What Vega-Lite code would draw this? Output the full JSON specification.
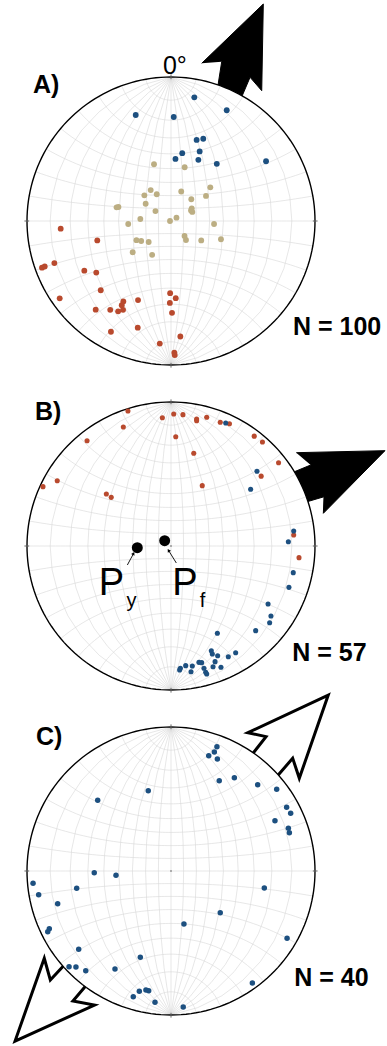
{
  "$schema": "https://vega.github.io/schema/vega-lite/v6.json",
  "padding": 0,
  "spacing": 0,
  "bounds": "flush",
  "background": "white",
  "config": {"view": {"stroke": null}, "text": {"font": "Liberation Sans"}},
  "datasets": {
    "pts": [
      {"p":"A","s":"blue","x":0.162,"y":0.859},{"p":"A","s":"blue","x":0.387,"y":0.769},{"p":"A","s":"blue","x":-0.245,"y":0.736},{"p":"A","s":"blue","x":0.019,"y":0.722},{"p":"A","s":"blue","x":0.178,"y":0.563},{"p":"A","s":"blue","x":0.224,"y":0.571},{"p":"A","s":"blue","x":0.199,"y":0.483},{"p":"A","s":"blue","x":0.078,"y":0.471},{"p":"A","s":"blue","x":0.031,"y":0.431},{"p":"A","s":"blue","x":0.190,"y":0.425},{"p":"A","s":"blue","x":0.318,"y":0.397},{"p":"A","s":"blue","x":0.660,"y":0.415},
      {"p":"A","s":"tan","x":-0.118,"y":0.394},{"p":"A","s":"tan","x":0.095,"y":0.373},{"p":"A","s":"tan","x":0.273,"y":0.234},{"p":"A","s":"tan","x":-0.141,"y":0.215},{"p":"A","s":"tan","x":-0.185,"y":0.178},{"p":"A","s":"tan","x":-0.099,"y":0.186},{"p":"A","s":"tan","x":0.071,"y":0.205},{"p":"A","s":"tan","x":0.243,"y":0.174},{"p":"A","s":"tan","x":0.141,"y":0.151},{"p":"A","s":"tan","x":-0.176,"y":0.120},{"p":"A","s":"tan","x":-0.378,"y":0.095},{"p":"A","s":"tan","x":-0.365,"y":0.097},{"p":"A","s":"tan","x":-0.108,"y":0.069},{"p":"A","s":"tan","x":0.144,"y":0.088},{"p":"A","s":"tan","x":0.148,"y":0.063},{"p":"A","s":"tan","x":0.139,"y":0.073},{"p":"A","s":"tan","x":-0.213,"y":0.014},{"p":"A","s":"tan","x":0.038,"y":0.023},{"p":"A","s":"tan","x":-0.007,"y":0.000},{"p":"A","s":"tan","x":-0.297,"y":-0.021},{"p":"A","s":"tan","x":0.299,"y":-0.021},{"p":"A","s":"tan","x":0.094,"y":-0.104},{"p":"A","s":"tan","x":0.104,"y":-0.132},{"p":"A","s":"tan","x":-0.240,"y":-0.133},{"p":"A","s":"tan","x":-0.207,"y":-0.139},{"p":"A","s":"tan","x":-0.155,"y":-0.146},{"p":"A","s":"tan","x":0.210,"y":-0.135},{"p":"A","s":"tan","x":0.347,"y":-0.127},{"p":"A","s":"tan","x":-0.266,"y":-0.217},{"p":"A","s":"tan","x":-0.131,"y":-0.235},
      {"p":"A","s":"red","x":-0.766,"y":-0.053},{"p":"A","s":"red","x":-0.512,"y":-0.135},{"p":"A","s":"red","x":-0.810,"y":-0.292},{"p":"A","s":"red","x":-0.896,"y":-0.324},{"p":"A","s":"red","x":-0.877,"y":-0.316},{"p":"A","s":"red","x":-0.602,"y":-0.345},{"p":"A","s":"red","x":-0.519,"y":-0.358},{"p":"A","s":"red","x":-0.488,"y":-0.481},{"p":"A","s":"red","x":-0.773,"y":-0.537},{"p":"A","s":"red","x":-0.331,"y":-0.559},{"p":"A","s":"red","x":-0.342,"y":-0.585},{"p":"A","s":"red","x":-0.229,"y":-0.549},{"p":"A","s":"red","x":-0.006,"y":-0.501},{"p":"A","s":"red","x":0.033,"y":-0.536},{"p":"A","s":"red","x":-0.008,"y":-0.569},{"p":"A","s":"red","x":-0.523,"y":-0.616},{"p":"A","s":"red","x":-0.422,"y":-0.617},{"p":"A","s":"red","x":-0.367,"y":-0.627},{"p":"A","s":"red","x":-0.333,"y":-0.617},{"p":"A","s":"red","x":0.007,"y":-0.638},{"p":"A","s":"red","x":-0.417,"y":-0.769},{"p":"A","s":"red","x":-0.231,"y":-0.741},{"p":"A","s":"red","x":0.065,"y":-0.802},{"p":"A","s":"red","x":-0.078,"y":-0.851},{"p":"A","s":"red","x":0.023,"y":-0.915},{"p":"A","s":"red","x":0.026,"y":-0.931},
      {"p":"B","s":"red","x":-0.299,"y":0.938},{"p":"B","s":"red","x":-0.060,"y":0.891},{"p":"B","s":"red","x":0.019,"y":0.917},{"p":"B","s":"red","x":0.083,"y":0.912},{"p":"B","s":"red","x":0.178,"y":0.882},{"p":"B","s":"red","x":0.178,"y":0.870},{"p":"B","s":"red","x":0.248,"y":0.894},{"p":"B","s":"red","x":0.342,"y":0.859},{"p":"B","s":"red","x":0.406,"y":0.849},{"p":"B","s":"red","x":-0.331,"y":0.826},{"p":"B","s":"red","x":0.033,"y":0.759},{"p":"B","s":"red","x":0.578,"y":0.763},{"p":"B","s":"red","x":0.635,"y":0.722},{"p":"B","s":"red","x":-0.583,"y":0.731},{"p":"B","s":"red","x":0.158,"y":0.644},{"p":"B","s":"red","x":0.747,"y":0.578},{"p":"B","s":"red","x":0.626,"y":0.485},{"p":"B","s":"red","x":-0.790,"y":0.453},{"p":"B","s":"red","x":-0.889,"y":0.412},{"p":"B","s":"red","x":0.217,"y":0.419},{"p":"B","s":"red","x":-0.449,"y":0.361},{"p":"B","s":"red","x":-0.415,"y":0.338},{"p":"B","s":"red","x":0.852,"y":0.076},{"p":"B","s":"red","x":0.889,"y":-0.081},
      {"p":"B","s":"blue","x":0.380,"y":0.854},{"p":"B","s":"blue","x":0.597,"y":0.519},{"p":"B","s":"blue","x":0.553,"y":0.394},{"p":"B","s":"blue","x":0.852,"y":0.104},{"p":"B","s":"blue","x":0.815,"y":0.030},{"p":"B","s":"blue","x":0.849,"y":-0.185},{"p":"B","s":"blue","x":0.819,"y":-0.287},{"p":"B","s":"blue","x":0.674,"y":-0.403},{"p":"B","s":"blue","x":0.694,"y":-0.486},{"p":"B","s":"blue","x":0.685,"y":-0.533},{"p":"B","s":"blue","x":0.588,"y":-0.588},{"p":"B","s":"blue","x":0.322,"y":-0.606},{"p":"B","s":"blue","x":0.449,"y":-0.741},{"p":"B","s":"blue","x":0.280,"y":-0.727},{"p":"B","s":"blue","x":0.287,"y":-0.750},{"p":"B","s":"blue","x":0.324,"y":-0.762},{"p":"B","s":"blue","x":0.398,"y":-0.769},{"p":"B","s":"blue","x":0.194,"y":-0.808},{"p":"B","s":"blue","x":0.213,"y":-0.810},{"p":"B","s":"blue","x":0.306,"y":-0.803},{"p":"B","s":"blue","x":0.102,"y":-0.831},{"p":"B","s":"blue","x":0.148,"y":-0.833},{"p":"B","s":"blue","x":0.060,"y":-0.861},{"p":"B","s":"blue","x":0.065,"y":-0.849},{"p":"B","s":"blue","x":0.139,"y":-0.873},{"p":"B","s":"blue","x":0.229,"y":-0.849},{"p":"B","s":"blue","x":0.241,"y":-0.877},{"p":"B","s":"blue","x":0.248,"y":-0.889},{"p":"B","s":"blue","x":0.292,"y":-0.838},{"p":"B","s":"blue","x":0.347,"y":-0.842},
      {"p":"C","s":"blue","x":0.319,"y":0.863},{"p":"C","s":"blue","x":0.301,"y":0.826},{"p":"C","s":"blue","x":0.262,"y":0.801},{"p":"C","s":"blue","x":0.322,"y":0.778},{"p":"C","s":"blue","x":0.335,"y":0.627},{"p":"C","s":"blue","x":0.440,"y":0.648},{"p":"C","s":"blue","x":0.602,"y":0.599},{"p":"C","s":"blue","x":0.734,"y":0.567},{"p":"C","s":"blue","x":-0.158,"y":0.558},{"p":"C","s":"blue","x":-0.509,"y":0.491},{"p":"C","s":"blue","x":0.803,"y":0.442},{"p":"C","s":"blue","x":0.831,"y":0.401},{"p":"C","s":"blue","x":0.722,"y":0.349},{"p":"C","s":"blue","x":0.815,"y":0.297},{"p":"C","s":"blue","x":0.822,"y":0.266},{"p":"C","s":"blue","x":-0.533,"y":-0.012},{"p":"C","s":"blue","x":-0.382,"y":-0.030},{"p":"C","s":"blue","x":-0.958,"y":-0.085},{"p":"C","s":"blue","x":-0.919,"y":-0.165},{"p":"C","s":"blue","x":-0.655,"y":-0.120},{"p":"C","s":"blue","x":0.648,"y":-0.118},{"p":"C","s":"blue","x":-0.787,"y":-0.227},{"p":"C","s":"blue","x":0.342,"y":-0.290},{"p":"C","s":"blue","x":0.090,"y":-0.368},{"p":"C","s":"blue","x":-0.845,"y":-0.401},{"p":"C","s":"blue","x":-0.856,"y":-0.422},{"p":"C","s":"blue","x":0.806,"y":-0.467},{"p":"C","s":"blue","x":-0.641,"y":-0.544},{"p":"C","s":"blue","x":-0.213,"y":-0.599},{"p":"C","s":"blue","x":-0.708,"y":-0.665},{"p":"C","s":"blue","x":-0.660,"y":-0.667},{"p":"C","s":"blue","x":-0.592,"y":-0.692},{"p":"C","s":"blue","x":-0.389,"y":-0.681},{"p":"C","s":"blue","x":0.565,"y":-0.778},{"p":"C","s":"blue","x":-0.220,"y":-0.835},{"p":"C","s":"blue","x":-0.174,"y":-0.826},{"p":"C","s":"blue","x":-0.155,"y":-0.831},{"p":"C","s":"blue","x":-0.262,"y":-0.873},{"p":"C","s":"blue","x":-0.111,"y":-0.912},{"p":"C","s":"blue","x":0.085,"y":-0.944}
    ],
    "arr": [
      {"p":"A","id":"a1","o":1,"x":0.213,"y":1.095},{"p":"A","id":"a1","o":2,"x":0.641,"y":1.507},{"p":"A","id":"a1","o":3,"x":0.630,"y":0.905},{"p":"A","id":"a1","o":4,"x":0.549,"y":0.998},{"p":"A","id":"a1","o":5,"x":0.479,"y":0.833},{"p":"A","id":"a1","o":6,"x":0.319,"y":0.896},{"p":"A","id":"a1","o":7,"x":0.352,"y":1.106},
      {"p":"B","id":"b1","o":1,"x":0.870,"y":0.648},{"p":"B","id":"b1","o":2,"x":1.486,"y":0.662},{"p":"B","id":"b1","o":3,"x":1.058,"y":0.227},{"p":"B","id":"b1","o":4,"x":1.0625,"y":0.342},{"p":"B","id":"b1","o":5,"x":0.910,"y":0.297},{"p":"B","id":"b1","o":6,"x":0.819,"y":0.500},{"p":"B","id":"b1","o":7,"x":0.970,"y":0.5625},
      {"p":"C","id":"c1","o":1,"x":0.552,"y":0.795},{"p":"C","id":"c1","o":2,"x":0.660,"y":0.933},{"p":"C","id":"c1","o":3,"x":0.533,"y":0.960},{"p":"C","id":"c1","o":4,"x":1.092,"y":1.222},{"p":"C","id":"c1","o":5,"x":0.891,"y":0.644},{"p":"C","id":"c1","o":6,"x":0.845,"y":0.783},{"p":"C","id":"c1","o":7,"x":0.722,"y":0.640},
      {"p":"C","id":"c2","o":1,"x":-0.715,"y":-0.625},{"p":"C","id":"c2","o":2,"x":-0.838,"y":-0.757},{"p":"C","id":"c2","o":3,"x":-0.880,"y":-0.606},{"p":"C","id":"c2","o":4,"x":-1.083,"y":-1.181},{"p":"C","id":"c2","o":5,"x":-0.531,"y":-0.931},{"p":"C","id":"c2","o":6,"x":-0.681,"y":-0.903},{"p":"C","id":"c2","o":7,"x":-0.569,"y":-0.771}
    ],
    "ticks": [
      {"x":0,"y":0.985,"x2":0,"y2":1.018},{"x":0,"y":-0.985,"x2":0,"y2":-1.018},{"x":-0.985,"y":0,"x2":-1.018,"y2":0},{"x":0.985,"y":0,"x2":1.018,"y2":0}
    ],
    "centre": [{"x":0,"y":0}],
    "lab": [
      {"p":"A","k":"bold","t":"A)","x":-0.958,"y":0.889},
      {"p":"A","k":"plain","t":"0°","x":-0.056,"y":1.021},
      {"p":"A","k":"bold","t":"N = 100","x":0.847,"y":-0.792},
      {"p":"B","k":"bold","t":"B)","x":-0.944,"y":0.872},
      {"p":"B","k":"bold","t":"N = 57","x":0.842,"y":-0.799},
      {"p":"B","k":"P","t":"P","x":-0.413,"y":-0.340},
      {"p":"B","k":"P","t":"P","x":0.097,"y":-0.340},
      {"p":"B","k":"sub","t":"y","x":-0.274,"y":-0.424},
      {"p":"B","k":"sub","t":"f","x":0.219,"y":-0.424},
      {"p":"C","k":"bold","t":"C)","x":-0.9375,"y":0.876},
      {"p":"C","k":"bold","t":"N = 40","x":0.856,"y":-0.799}
    ],
    "poles": [{"n":"y","x":-0.234,"y":-0.012},{"n":"f","x":-0.044,"y":0.037}],
    "ptr": [{"n":"y","x":-0.303,"y":-0.132,"x2":-0.260,"y2":-0.052},{"n":"f","x":0.037,"y":-0.118,"x2":-0.017,"y2":-0.031}]
  },
  "vconcat": [
    {
      "width": 387, "height": 325,
      "layer": [
        {"data":{"name":"arr"},"transform":[{"filter":"datum.p == 'A'"}],"mark":{"type":"line","fill":"black","stroke":"black","strokeWidth":1,"strokeJoin":"miter","clip":false},
         "encoding":{"x":{"field":"x","type":"quantitative","scale":{"domain":[-1.1875,1.5],"nice":false,"zero":false},"axis":null},"y":{"field":"y","type":"quantitative","scale":{"domain":[-0.7222,1.5347],"nice":false,"zero":false},"axis":null},"order":{"field":"o"},"detail":{"field":"id"}}},
        {"data":{"sphere":true},"mark":{"type":"geoshape","fill":"white","stroke":null,"clip":false},"projection":{"type":"stereographic","scale":144,"translate":[171,221],"clipAngle":90}},
        {"data":{"graticule":{"step":[10,10],"extent":[[-180,-90],[180,90]]}},"mark":{"type":"geoshape","filled":false,"stroke":"#d6d6d6","strokeWidth":0.6,"clip":false},"projection":{"type":"stereographic","scale":144,"translate":[171,221],"clipAngle":90}},
        {"data":{"sphere":true},"mark":{"type":"geoshape","filled":false,"stroke":"black","strokeWidth":1.4,"clip":false},"projection":{"type":"stereographic","scale":144,"translate":[171,221],"clipAngle":90}},
        {"data":{"name":"ticks"},"mark":{"type":"rule","color":"#666","strokeWidth":1,"clip":false},
         "encoding":{"x":{"field":"x","type":"quantitative","scale":{"domain":[-1.1875,1.5],"nice":false,"zero":false},"axis":null},"y":{"field":"y","type":"quantitative","scale":{"domain":[-0.7222,1.5347],"nice":false,"zero":false},"axis":null},"x2":{"field":"x2"},"y2":{"field":"y2"}}},
        {"data":{"name":"centre"},"mark":{"type":"circle","size":4,"color":"#999","opacity":1,"clip":false},
         "encoding":{"x":{"field":"x","type":"quantitative","scale":{"domain":[-1.1875,1.5],"nice":false,"zero":false},"axis":null},"y":{"field":"y","type":"quantitative","scale":{"domain":[-0.7222,1.5347],"nice":false,"zero":false},"axis":null}}},
        {"data":{"name":"pts"},"transform":[{"filter":"datum.p == 'A'"}],"mark":{"type":"circle","size":34,"opacity":1,"clip":false},
         "encoding":{"x":{"field":"x","type":"quantitative","scale":{"domain":[-1.1875,1.5],"nice":false,"zero":false},"axis":null},"y":{"field":"y","type":"quantitative","scale":{"domain":[-0.7222,1.5347],"nice":false,"zero":false},"axis":null},
           "color":{"field":"s","type":"nominal","scale":{"domain":["blue","red","tan"],"range":["#1d5080","#b94a2e","#bcae83"]},"legend":null}}},
        {"data":{"name":"lab"},"transform":[{"filter":"datum.p == 'A' && datum.k == 'bold'"}],"mark":{"type":"text","align":"left","baseline":"alphabetic","fontSize":25,"fontWeight":"bold","color":"black","clip":false},
         "encoding":{"x":{"field":"x","type":"quantitative","scale":{"domain":[-1.1875,1.5],"nice":false,"zero":false},"axis":null},"y":{"field":"y","type":"quantitative","scale":{"domain":[-0.7222,1.5347],"nice":false,"zero":false},"axis":null},"text":{"field":"t"}}},
        {"data":{"name":"lab"},"transform":[{"filter":"datum.p == 'A' && datum.k == 'plain'"}],"mark":{"type":"text","align":"left","baseline":"alphabetic","fontSize":25,"color":"black","clip":false},
         "encoding":{"x":{"field":"x","type":"quantitative","scale":{"domain":[-1.1875,1.5],"nice":false,"zero":false},"axis":null},"y":{"field":"y","type":"quantitative","scale":{"domain":[-0.7222,1.5347],"nice":false,"zero":false},"axis":null},"text":{"field":"t"}}}
      ]
    },
    {
      "width": 387, "height": 325,
      "layer": [
        {"data":{"name":"arr"},"transform":[{"filter":"datum.p == 'B'"}],"mark":{"type":"line","fill":"black","stroke":"black","strokeWidth":1,"strokeJoin":"miter","clip":false},
         "encoding":{"x":{"field":"x","type":"quantitative","scale":{"domain":[-1.1875,1.5],"nice":false,"zero":false},"axis":null},"y":{"field":"y","type":"quantitative","scale":{"domain":[-0.7222,1.5347],"nice":false,"zero":false},"axis":null},"order":{"field":"o"},"detail":{"field":"id"}}},
        {"data":{"sphere":true},"mark":{"type":"geoshape","fill":"white","stroke":null,"clip":false},"projection":{"type":"stereographic","scale":144,"translate":[171,221],"clipAngle":90}},
        {"data":{"graticule":{"step":[10,10],"extent":[[-180,-90],[180,90]]}},"mark":{"type":"geoshape","filled":false,"stroke":"#d6d6d6","strokeWidth":0.6,"clip":false},"projection":{"type":"stereographic","scale":144,"translate":[171,221],"clipAngle":90}},
        {"data":{"sphere":true},"mark":{"type":"geoshape","filled":false,"stroke":"black","strokeWidth":1.4,"clip":false},"projection":{"type":"stereographic","scale":144,"translate":[171,221],"clipAngle":90}},
        {"data":{"name":"ticks"},"mark":{"type":"rule","color":"#666","strokeWidth":1,"clip":false},
         "encoding":{"x":{"field":"x","type":"quantitative","scale":{"domain":[-1.1875,1.5],"nice":false,"zero":false},"axis":null},"y":{"field":"y","type":"quantitative","scale":{"domain":[-0.7222,1.5347],"nice":false,"zero":false},"axis":null},"x2":{"field":"x2"},"y2":{"field":"y2"}}},
        {"data":{"name":"centre"},"mark":{"type":"circle","size":4,"color":"#999","opacity":1,"clip":false},
         "encoding":{"x":{"field":"x","type":"quantitative","scale":{"domain":[-1.1875,1.5],"nice":false,"zero":false},"axis":null},"y":{"field":"y","type":"quantitative","scale":{"domain":[-0.7222,1.5347],"nice":false,"zero":false},"axis":null}}},
        {"data":{"name":"pts"},"transform":[{"filter":"datum.p == 'B'"}],"mark":{"type":"circle","size":26,"opacity":1,"clip":false},
         "encoding":{"x":{"field":"x","type":"quantitative","scale":{"domain":[-1.1875,1.5],"nice":false,"zero":false},"axis":null},"y":{"field":"y","type":"quantitative","scale":{"domain":[-0.7222,1.5347],"nice":false,"zero":false},"axis":null},
           "color":{"field":"s","type":"nominal","scale":{"domain":["blue","red","tan"],"range":["#1d5080","#b94a2e","#bcae83"]},"legend":null}}},
        {"data":{"name":"poles"},"mark":{"type":"circle","size":120,"color":"black","opacity":1,"clip":false},
         "encoding":{"x":{"field":"x","type":"quantitative","scale":{"domain":[-1.1875,1.5],"nice":false,"zero":false},"axis":null},"y":{"field":"y","type":"quantitative","scale":{"domain":[-0.7222,1.5347],"nice":false,"zero":false},"axis":null}}},
        {"data":{"name":"ptr"},"mark":{"type":"rule","color":"black","strokeWidth":0.9,"clip":false},
         "encoding":{"x":{"field":"x","type":"quantitative","scale":{"domain":[-1.1875,1.5],"nice":false,"zero":false},"axis":null},"y":{"field":"y","type":"quantitative","scale":{"domain":[-0.7222,1.5347],"nice":false,"zero":false},"axis":null},"x2":{"field":"x2"},"y2":{"field":"y2"}}},
        {"data":{"name":"ptr"},"transform":[{"filter":"datum.n == 'y'"}],"mark":{"type":"point","shape":"triangle-up","filled":true,"size":14,"angle":28,"color":"black","opacity":1,"clip":false},
         "encoding":{"x":{"field":"x2","type":"quantitative","scale":{"domain":[-1.1875,1.5],"nice":false,"zero":false},"axis":null},"y":{"field":"y2","type":"quantitative","scale":{"domain":[-0.7222,1.5347],"nice":false,"zero":false},"axis":null}}},
        {"data":{"name":"ptr"},"transform":[{"filter":"datum.n == 'f'"}],"mark":{"type":"point","shape":"triangle-up","filled":true,"size":14,"angle":328,"color":"black","opacity":1,"clip":false},
         "encoding":{"x":{"field":"x2","type":"quantitative","scale":{"domain":[-1.1875,1.5],"nice":false,"zero":false},"axis":null},"y":{"field":"y2","type":"quantitative","scale":{"domain":[-0.7222,1.5347],"nice":false,"zero":false},"axis":null}}},
        {"data":{"name":"lab"},"transform":[{"filter":"datum.p == 'B' && datum.k == 'bold'"}],"mark":{"type":"text","align":"left","baseline":"alphabetic","fontSize":25,"fontWeight":"bold","color":"black","clip":false},
         "encoding":{"x":{"field":"x","type":"quantitative","scale":{"domain":[-1.1875,1.5],"nice":false,"zero":false},"axis":null},"y":{"field":"y","type":"quantitative","scale":{"domain":[-0.7222,1.5347],"nice":false,"zero":false},"axis":null},"text":{"field":"t"}}},
        {"data":{"name":"lab"},"transform":[{"filter":"datum.p == 'B' && datum.k == 'P'"}],"mark":{"type":"text","align":"center","baseline":"alphabetic","fontSize":38,"color":"black","clip":false},
         "encoding":{"x":{"field":"x","type":"quantitative","scale":{"domain":[-1.1875,1.5],"nice":false,"zero":false},"axis":null},"y":{"field":"y","type":"quantitative","scale":{"domain":[-0.7222,1.5347],"nice":false,"zero":false},"axis":null},"text":{"field":"t"}}},
        {"data":{"name":"lab"},"transform":[{"filter":"datum.p == 'B' && datum.k == 'sub'"}],"mark":{"type":"text","align":"center","baseline":"alphabetic","fontSize":20,"color":"black","clip":false},
         "encoding":{"x":{"field":"x","type":"quantitative","scale":{"domain":[-1.1875,1.5],"nice":false,"zero":false},"axis":null},"y":{"field":"y","type":"quantitative","scale":{"domain":[-0.7222,1.5347],"nice":false,"zero":false},"axis":null},"text":{"field":"t"}}}
      ]
    },
    {
      "width": 387, "height": 396,
      "layer": [
        {"data":{"name":"arr"},"transform":[{"filter":"datum.p == 'C'"}],"mark":{"type":"line","fill":"white","stroke":"black","strokeWidth":3,"strokeJoin":"miter","clip":false},
         "encoding":{"x":{"field":"x","type":"quantitative","scale":{"domain":[-1.1875,1.5],"nice":false,"zero":false},"axis":null},"y":{"field":"y","type":"quantitative","scale":{"domain":[-1.2153,1.5347],"nice":false,"zero":false},"axis":null},"order":{"field":"o"},"detail":{"field":"id"}}},
        {"data":{"sphere":true},"mark":{"type":"geoshape","fill":"white","stroke":null,"clip":false},"projection":{"type":"stereographic","scale":144,"translate":[171,221],"clipAngle":90}},
        {"data":{"graticule":{"step":[10,10],"extent":[[-180,-90],[180,90]]}},"mark":{"type":"geoshape","filled":false,"stroke":"#d6d6d6","strokeWidth":0.6,"clip":false},"projection":{"type":"stereographic","scale":144,"translate":[171,221],"clipAngle":90}},
        {"data":{"sphere":true},"mark":{"type":"geoshape","filled":false,"stroke":"black","strokeWidth":1.4,"clip":false},"projection":{"type":"stereographic","scale":144,"translate":[171,221],"clipAngle":90}},
        {"data":{"name":"ticks"},"mark":{"type":"rule","color":"#666","strokeWidth":1,"clip":false},
         "encoding":{"x":{"field":"x","type":"quantitative","scale":{"domain":[-1.1875,1.5],"nice":false,"zero":false},"axis":null},"y":{"field":"y","type":"quantitative","scale":{"domain":[-1.2153,1.5347],"nice":false,"zero":false},"axis":null},"x2":{"field":"x2"},"y2":{"field":"y2"}}},
        {"data":{"name":"centre"},"mark":{"type":"circle","size":4,"color":"#999","opacity":1,"clip":false},
         "encoding":{"x":{"field":"x","type":"quantitative","scale":{"domain":[-1.1875,1.5],"nice":false,"zero":false},"axis":null},"y":{"field":"y","type":"quantitative","scale":{"domain":[-1.2153,1.5347],"nice":false,"zero":false},"axis":null}}},
        {"data":{"name":"pts"},"transform":[{"filter":"datum.p == 'C'"}],"mark":{"type":"circle","size":30,"opacity":1,"clip":false},
         "encoding":{"x":{"field":"x","type":"quantitative","scale":{"domain":[-1.1875,1.5],"nice":false,"zero":false},"axis":null},"y":{"field":"y","type":"quantitative","scale":{"domain":[-1.2153,1.5347],"nice":false,"zero":false},"axis":null},
           "color":{"field":"s","type":"nominal","scale":{"domain":["blue","red","tan"],"range":["#1d5080","#b94a2e","#bcae83"]},"legend":null}}},
        {"data":{"name":"lab"},"transform":[{"filter":"datum.p == 'C' && datum.k == 'bold'"}],"mark":{"type":"text","align":"left","baseline":"alphabetic","fontSize":25,"fontWeight":"bold","color":"black","clip":false},
         "encoding":{"x":{"field":"x","type":"quantitative","scale":{"domain":[-1.1875,1.5],"nice":false,"zero":false},"axis":null},"y":{"field":"y","type":"quantitative","scale":{"domain":[-1.2153,1.5347],"nice":false,"zero":false},"axis":null},"text":{"field":"t"}}}
      ]
    }
  ]
}
